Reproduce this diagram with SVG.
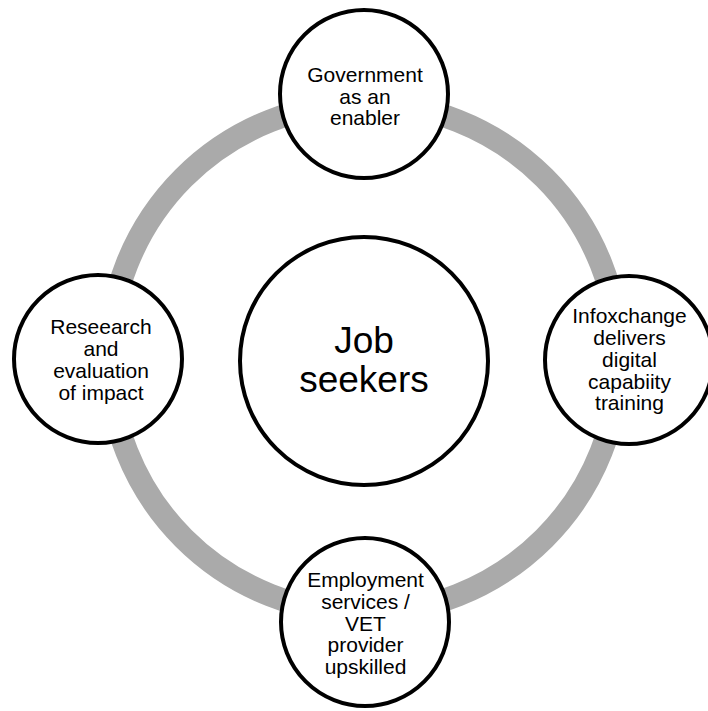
<svg xmlns="http://www.w3.org/2000/svg" width="708" height="711" viewBox="0 0 708 711">
<style>
.node{fill:#ffffff;stroke:#000000;stroke-width:4}
.t{font-family:"Liberation Sans",Arial,sans-serif;font-size:21px;fill:#000000;text-anchor:middle}
.big{font-size:37px}
</style>
<rect width="708" height="711" fill="#ffffff"/>
<g id="connectors">
<circle cx="364" cy="358" r="255" fill="none" stroke="#aaaaaa" stroke-width="23"/>
</g>
<g id="node-center">
<circle class="node" cx="364" cy="361" r="124"/>
<text class="t big" x="364" y="353">Job</text>
<text class="t big" x="364" y="392">seekers</text>
</g>
<g id="node-top">
<circle class="node" cx="364" cy="94" r="84"/>
<text class="t" x="365" y="82">Government</text>
<text class="t" x="365" y="103.5">as an</text>
<text class="t" x="365" y="125">enabler</text>
</g>
<g id="node-left">
<circle class="node" cx="98" cy="359" r="84"/>
<text class="t" x="101" y="334">Reseearch</text>
<text class="t" x="101" y="356">and</text>
<text class="t" x="101" y="378">evaluation</text>
<text class="t" x="101" y="399.5">of impact</text>
</g>
<g id="node-right">
<circle class="node" cx="629" cy="360" r="84"/>
<text class="t" x="629.5" y="323">Infoxchange</text>
<text class="t" x="629.5" y="345">delivers</text>
<text class="t" x="629.5" y="367">digital</text>
<text class="t" x="629.5" y="388.5">capabiity</text>
<text class="t" x="629.5" y="410">training</text>
</g>
<g id="node-bottom">
<circle class="node" cx="365" cy="622" r="84"/>
<text class="t" x="365.5" y="587">Employment</text>
<text class="t" x="365.5" y="608.5">services /</text>
<text class="t" x="365.5" y="630.5">VET</text>
<text class="t" x="365.5" y="652">provider</text>
<text class="t" x="365.5" y="673.5">upskilled</text>
</g>
</svg>
